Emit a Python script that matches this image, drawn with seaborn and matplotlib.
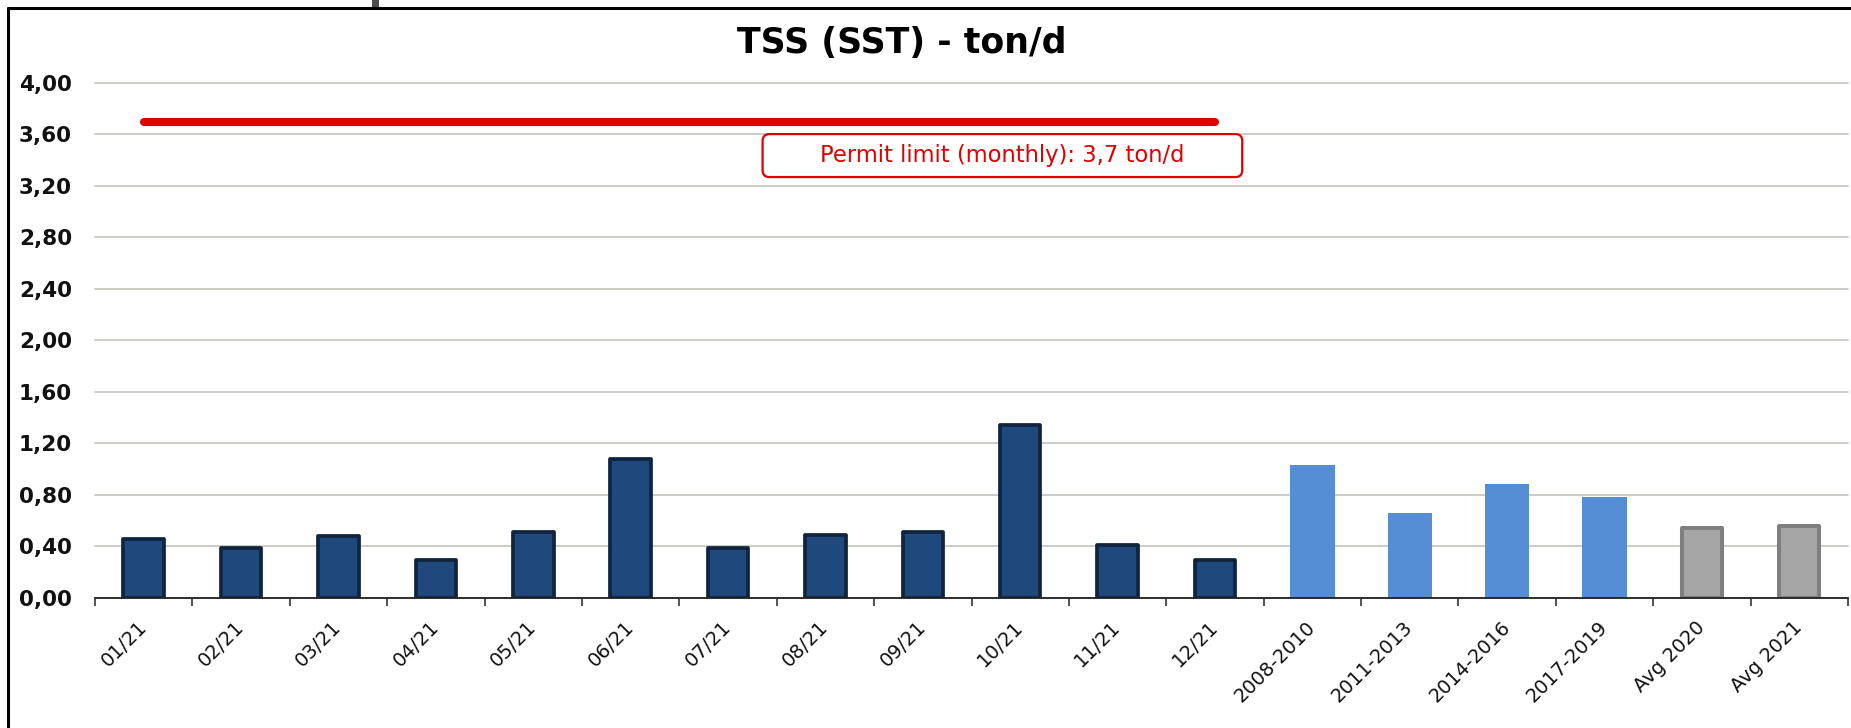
import numpy as np
import pandas as pd
import matplotlib
matplotlib.use("Agg")
import matplotlib.pyplot as plt
from matplotlib.patches import FancyBboxPatch, Rectangle
from matplotlib.lines import Line2D
from matplotlib.ticker import FuncFormatter, MultipleLocator
import seaborn as sns

# monthly values 2021 (ton/d)
months = ["01/21", "02/21", "03/21", "04/21", "05/21", "06/21",
          "07/21", "08/21", "09/21", "10/21", "11/21", "12/21"]
tss_2021 = [0.46, 0.39, 0.48, 0.29, 0.51, 1.08, 0.39, 0.49, 0.51, 1.34, 0.41, 0.29]

# multi-year averages
periods = ["2008-2010", "2011-2013", "2014-2016", "2017-2019"]
tss_periods = [1.03, 0.66, 0.88, 0.78]

# yearly averages
averages = ["Avg 2020", "Avg 2021"]
tss_avg = [0.54, 0.56]

# permit limit (monthly)
permit_limit = [3.7, 3.7, 3.7, 3.7, 3.7, 3.7, 3.7, 3.7, 3.7, 3.7, 3.7, 3.7]
limit_text = "Permit limit (monthly): 3,7 ton/d"
title = "TSS (SST) - ton/d"

W, H = 1851, 728

sns.set_theme(style="white")
plt.rcParams["font.family"] = ["DejaVu Sans"]

df = pd.DataFrame({
    "label": months + periods + averages,
    "value": tss_2021 + tss_periods + tss_avg,
    "group": ["month"] * len(months) + ["period"] * len(periods) + ["avg"] * len(averages),
})

fig = plt.figure(figsize=(W / 100, H / 100), dpi=100)
ax = fig.add_axes([95 / W, 130.3 / H, 1753 / W, 514.7 / H])

sns.barplot(data=df, x="label", y="value", hue="group",
            hue_order=["month", "period", "avg"],
            palette={"month": "#1F497D", "period": "#558ED5", "avg": "#A6A6A6"},
            dodge=False, width=0.455, saturation=1, legend=False, ax=ax, zorder=3)

# borders on the monthly and avg bars (kept inside the same outer width)
cat_px = 1753 / 18
for cont, ec, lw in zip(ax.containers, ["#10243F", None, "#7F7F7F"], [2.7, 0, 2.9]):
    for bar in cont:
        if ec is None:
            bar.set_linewidth(0)
            continue
        shrink = lw / 72 * 100 / cat_px
        bar.set_x(bar.get_x() + shrink / 2)
        bar.set_width(bar.get_width() - shrink)
        bar.set_edgecolor(ec)
        bar.set_linewidth(lw)
        bar.set_joinstyle("round")

sns.lineplot(x=np.arange(len(permit_limit)), y=permit_limit, ax=ax,
             color="#E00000", linewidth=5.8, solid_capstyle="round", zorder=4)

ax.set_xlim(-0.5, len(df) - 0.5)
ax.set_ylim(0, 4.0)
ax.yaxis.set_major_locator(MultipleLocator(0.4))
ax.yaxis.set_major_formatter(FuncFormatter(lambda v, p: f"{v:.2f}".replace(".", ",")))
ax.grid(axis="y", color="#C4C4BC", linewidth=1.2, zorder=0)
for gl in ax.get_ygridlines():
    gl.set_clip_on(False)
ax.set_xlabel("")
ax.set_ylabel("")

for s in ["top", "right", "left"]:
    ax.spines[s].set_visible(False)
ax.spines["bottom"].set_color("#222222")
ax.spines["bottom"].set_linewidth(1.3)
ax.spines["bottom"].set_zorder(5)

ax.set_xticks(np.arange(-0.5, len(df), 1), minor=True)
ax.tick_params(axis="x", which="minor", length=5.5, width=1.1, color="#222222", direction="out", bottom=True)
ax.tick_params(axis="x", which="major", length=0, pad=19, labelsize=14, labelcolor="#111111")
ax.tick_params(axis="y", length=0, pad=16.5, labelsize=15.5)
for lbl in ax.get_xticklabels():
    lbl.set_rotation(45)
    lbl.set_ha("right")
    lbl.set_va("center")
    lbl.set_rotation_mode("anchor")
for lbl in ax.get_yticklabels():
    lbl.set_fontweight("bold")
    lbl.set_color("#111111")

# permit limit label box
box = FancyBboxPatch((6.355, 3.269), 11.28 - 6.355, 3.603 - 3.269,
                     boxstyle="round,pad=0,rounding_size=0.07", mutation_aspect=0.757,
                     transform=ax.transData, facecolor="white", edgecolor="#E00000",
                     linewidth=1.6, zorder=6, clip_on=False)
ax.add_patch(box)
ax.text(8.82, 3.436, limit_text, color="#E00000", fontsize=16.3,
        ha="center", va="center", zorder=7)

fig.text(902 / W, 1 - 53 / H, title, ha="center", va="baseline",
         fontsize=25, fontweight="bold", color="black")

# screenshot frame
fig.add_artist(Line2D([8 / W, 1], [1 - 8 / H, 1 - 8 / H], transform=fig.transFigure,
                      color="black", linewidth=2.2))
fig.add_artist(Line2D([8 / W, 8 / W], [0, 1 - 8 / H], transform=fig.transFigure,
                      color="black", linewidth=2.2))
fig.add_artist(Rectangle((372 / W, 1 - 7 / H), 7 / W, 7 / H, transform=fig.transFigure,
                         color="#4D4D4D", linewidth=0))

fig.savefig("out.png", dpi=100)
